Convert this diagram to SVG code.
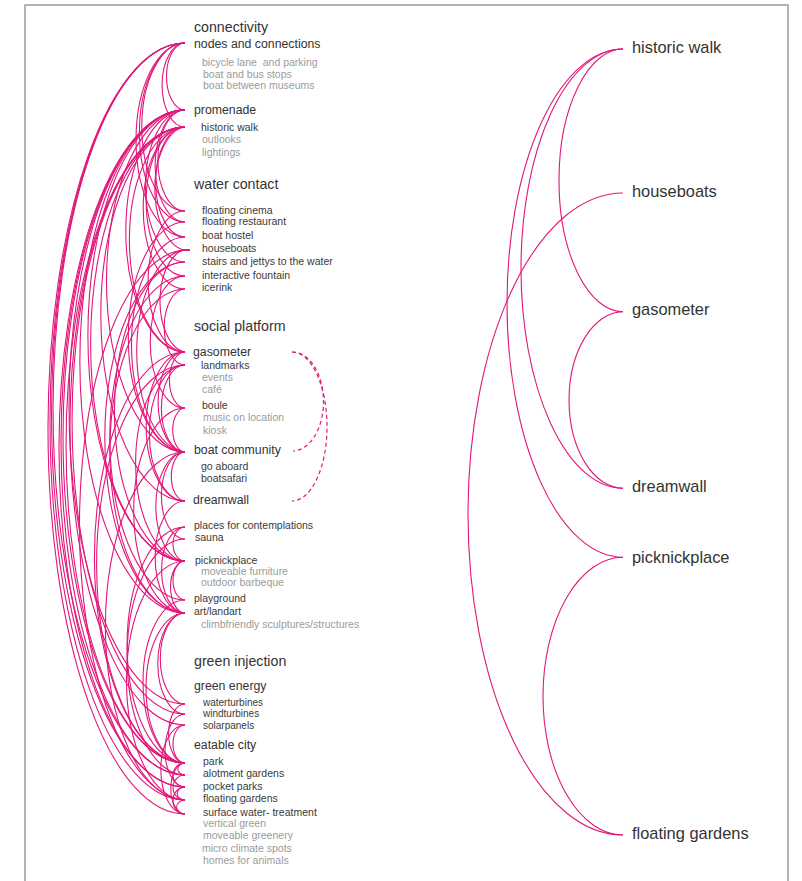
<svg xmlns="http://www.w3.org/2000/svg" width="802" height="881" viewBox="0 0 802 881">
<style>
text{font-family:"Liberation Sans",Arial,sans-serif;}
.h{font-size:14.2px;fill:#333;}
.s{font-size:12.3px;fill:#333;}
.i{font-size:10.5px;fill:#3a3a3a;}
.t{font-size:10px;fill:#3a3a3a;}
.g{font-size:10.5px;fill:#9b9b9b;white-space:pre;}
.r{font-size:16.4px;fill:#333;}
.c path{fill:none;stroke:#e2167a;stroke-width:1.1;}
.c path.d{stroke-dasharray:4 3;stroke-width:1.2;}
</style>
<rect width="802" height="881" fill="#fff"/>
<path d="M25,881V5H788V881" fill="none" stroke="#9a9a9a" stroke-width="1.5"/>
<g id="connectors" class="c">
<path d="M185,43 A18.5,33.5 0 0 0 185,110"/>
<path d="M185,43 A22.9,42 0 0 0 185,127"/>
<path d="M185,43 A43.2,84 0 0 0 185,211"/>
<path d="M185,43 A45.6,89.5 0 0 0 185,222"/>
<path d="M185,43 A49,97 0 0 0 185,237"/>
<path d="M185,43 A132,366 0 0 0 185,775"/>
<path d="M185,43 A133.5,372 0 0 0 185,787"/>
<path d="M185,43 A135,378.5 0 0 0 185,800"/>
<path d="M185,43 A137,385.5 0 0 0 185,814"/>
<path d="M185,110 A27.2,50.5 0 0 0 185,211"/>
<path d="M185,110 A29.9,56 0 0 0 185,222"/>
<path d="M185,110 A39.5,76 0 0 0 185,262"/>
<path d="M185,110 A59.2,121 0 0 0 185,352"/>
<path d="M185,110 A97.1,225.5 0 0 0 185,561"/>
<path d="M185,110 A105.2,251.5 0 0 0 185,613"/>
<path d="M185,110 A122,326.5 0 0 0 185,763"/>
<path d="M185,110 A124,332.5 0 0 0 185,775"/>
<path d="M185,110 A126,338.5 0 0 0 185,787"/>
<path d="M185,110 A116,297 0 0 0 185,704"/>
<path d="M185,110 A78.5,171 0 0 0 185,452"/>
<path d="M185,127 A29.4,55 0 0 0 185,237"/>
<path d="M185,127 A38.8,74.5 0 0 0 185,276"/>
<path d="M185,127 A41.8,81 0 0 0 185,289"/>
<path d="M185,127 A55.6,112.5 0 0 0 185,352"/>
<path d="M185,127 A84.2,187 0 0 0 185,501"/>
<path d="M185,127 A94.4,217 0 0 0 185,561"/>
<path d="M185,127 A119,318 0 0 0 185,763"/>
<path d="M185,127 A113,293.5 0 0 0 185,714"/>
<path d="M185,127 A115,299 0 0 0 185,725"/>
<path d="M185,127 A32.6,61.5 0 0 0 190,250"/>
<path d="M185,211 A36.9,70.5 0 0 0 185,352"/>
<path d="M185,222 A56.7,115 0 0 0 185,452"/>
<path d="M185,237 A53.5,107.5 0 0 0 185,452"/>
<path d="M190,250 A50.7,101 0 0 0 185,452"/>
<path d="M190,250 A108,275 0 0 0 185,800"/>
<path d="M190,250 A27.4,51 0 0 0 185,352"/>
<path d="M185,262 A70.5,149.5 0 0 0 185,561"/>
<path d="M185,262 A80.2,175.5 0 0 0 185,613"/>
<path d="M185,276 A34.8,66 0 0 0 185,408"/>
<path d="M185,276 A75.2,162 0 0 0 185,600"/>
<path d="M185,289 A20.8,38 0 0 0 185,365"/>
<path d="M185,289 A75.2,162 0 0 0 185,613"/>
<path d="M185,352 A26.9,50 0 0 0 185,452"/>
<path d="M185,352 A38.8,74.5 0 0 0 185,501"/>
<path d="M185,352 A15.6,28 0 0 0 185,408"/>
<path d="M185,352 A90.6,205.5 0 0 0 185,763"/>
<path d="M185,365 A23.6,43.5 0 0 0 185,452"/>
<path d="M185,365 A35.7,68 0 0 0 185,501"/>
<path d="M185,365 A49.4,98 0 0 0 185,561"/>
<path d="M185,365 A88.4,199 0 0 0 185,763"/>
<path d="M185,408 A12.3,22 0 0 0 185,452"/>
<path d="M185,408 A51.3,102.5 0 0 0 185,613"/>
<path d="M185,452 A13.7,24.5 0 0 0 185,501"/>
<path d="M185,452 A23.6,43.5 0 0 0 185,539"/>
<path d="M185,452 A29.2,54.5 0 0 0 185,561"/>
<path d="M185,452 A79.6,174 0 0 0 185,800"/>
<path d="M185,501 A29.9,56 0 0 0 185,613"/>
<path d="M185,527 A23.4,43 0 0 0 185,613"/>
<path d="M185,527 A57.9,118 0 0 0 185,763"/>
<path d="M185,527 A12,17 0 0 0 185,561"/>
<path d="M185,539 A57.9,118 0 0 0 185,775"/>
<path d="M185,561 A12,19.5 0 0 0 185,600"/>
<path d="M185,561 A14.5,26 0 0 0 185,613"/>
<path d="M185,561 A58.5,119.5 0 0 0 185,800"/>
<path d="M185,600 A42,81.5 0 0 0 185,763"/>
<path d="M185,613 A24.7,45.5 0 0 0 185,704"/>
<path d="M185,613 A27.2,50.5 0 0 0 185,714"/>
<path d="M185,613 A39,75 0 0 0 185,763"/>
<path d="M185,704 A16.4,29.5 0 0 0 185,763"/>
<path d="M185,714 A20,36.5 0 0 0 185,787"/>
<path d="M185,725 A12,19 0 0 0 185,763"/>
<path d="M185,763 A7.2,6 0 0 0 185,775"/>
<path d="M185,763 A12,12 0 0 0 185,787"/>
<path d="M185,763 A14.2,25.5 0 0 0 185,814"/>
<path d="M185,775 A12,12.5 0 0 0 185,800"/>
<path d="M185,787 A12,13.5 0 0 0 185,814"/>
<path d="M185,787 A7.8,6.5 0 0 0 185,800"/>
<path d="M185,800 A8.4,7 0 0 0 185,814"/>
<path d="M185,725 A24.2,44.5 0 0 0 185,814"/>
<path class="d" d="M292,352 A35,74.5 0 0 1 292,501"/>
<path class="d" d="M292,352 A31,49.5 0 0 1 293,451"/>
<path d="M623,49 A64,131.35 0 0 0 623,311.7"/>
<path d="M623,49 A102,219.65 0 0 0 623,488.3"/>
<path d="M623,49 A116,254.15 0 0 0 623,557.3"/>
<path d="M623,193 A155,321 0 0 0 623,835"/>
<path d="M623,311.7 A54,88.3 0 0 0 623,488.3"/>
<path d="M623,557.3 A80,138.85 0 0 0 623,835"/>
</g>
<g id="connectivity"><text class="h" x="194" y="32">connectivity</text></g>
<g id="nodes-and-connections"><text class="s" x="194" y="48">nodes and connections</text>
<text class="g" x="202" y="66">bicycle lane  and parking</text>
<text class="g" x="203" y="78">boat and bus stops</text>
<text class="g" x="203" y="89">boat between museums</text></g>
<g id="promenade"><text class="s" x="194" y="114">promenade</text></g>
<g id="historic-walk-l"><text class="i" x="201" y="131">historic walk</text>
<text class="g" x="202" y="143">outlooks</text>
<text class="g" x="202" y="156">lightings</text></g>
<g id="water-contact"><text class="h" x="194" y="189">water contact</text></g>
<g id="floating-cinema"><text class="i" x="202" y="214">floating cinema</text></g>
<g id="floating-restaurant"><text class="i" x="202" y="225">floating restaurant</text></g>
<g id="boat-hostel"><text class="i" x="202" y="239">boat hostel</text></g>
<g id="houseboats-l"><text class="i" x="202" y="252">houseboats</text></g>
<g id="stairs"><text class="i" x="202" y="265">stairs and jettys to the water</text></g>
<g id="fountain"><text class="i" x="202" y="279">interactive fountain</text></g>
<g id="icerink"><text class="i" x="202" y="291">icerink</text></g>
<g id="social-platform"><text class="h" x="194" y="331">social platform</text></g>
<g id="gasometer-l"><text class="s" x="193" y="356">gasometer</text></g>
<g id="landmarks"><text class="i" x="201" y="369">landmarks</text>
<text class="g" x="202" y="381">events</text>
<text class="g" x="202" y="393">café</text></g>
<g id="boule"><text class="i" x="202" y="409">boule</text>
<text class="g" x="203" y="421">music on location</text>
<text class="g" x="203" y="434">kiosk</text></g>
<g id="boat-community"><text class="s" x="194" y="454">boat community</text>
<text class="i" x="201" y="470">go aboard</text>
<text class="i" x="201" y="482">boatsafari</text></g>
<g id="dreamwall-l"><text class="s" x="193" y="504">dreamwall</text></g>
<g id="contemplations"><text class="i" x="194" y="529">places for contemplations</text></g>
<g id="sauna"><text class="i" x="195" y="541">sauna</text></g>
<g id="picknickplace-l"><text class="i" x="195" y="564">picknickplace</text>
<text class="g" x="201" y="575">moveable furniture</text>
<text class="g" x="201" y="586">outdoor barbeque</text></g>
<g id="playground"><text class="i" x="194" y="602">playground</text></g>
<g id="art"><text class="i" x="194" y="615">art/landart</text>
<text class="g" x="201" y="628">climbfriendly sculptures/structures</text></g>
<g id="green-injection"><text class="h" x="194" y="666">green injection</text></g>
<g id="green-energy"><text class="s" x="194" y="690">green energy</text></g>
<g id="waterturbines"><text class="t" x="203" y="705.5">waterturbines</text></g>
<g id="windturbines"><text class="t" x="203" y="717">windturbines</text></g>
<g id="solarpanels"><text class="t" x="203" y="728.5">solarpanels</text></g>
<g id="eatable-city"><text class="s" x="194" y="749">eatable city</text></g>
<g id="park"><text class="i" x="203" y="765">park</text></g>
<g id="alotment"><text class="i" x="203" y="777">alotment gardens</text></g>
<g id="pocket-parks"><text class="i" x="203" y="790">pocket parks</text></g>
<g id="floating-gardens-l"><text class="i" x="203" y="802">floating gardens</text></g>
<g id="surface-water"><text class="i" x="203" y="816">surface water- treatment</text>
<text class="g" x="203" y="827">vertical green</text>
<text class="g" x="203" y="839">moveable greenery</text>
<text class="g" x="202" y="852">micro climate spots</text>
<text class="g" x="203" y="864">homes for animals</text></g>
<g id="historic-walk"><text class="r" x="632" y="53">historic walk</text></g>
<g id="houseboats"><text class="r" x="632" y="197">houseboats</text></g>
<g id="gasometer"><text class="r" x="632" y="315">gasometer</text></g>
<g id="dreamwall"><text class="r" x="632" y="492">dreamwall</text></g>
<g id="picknickplace"><text class="r" x="632" y="563">picknickplace</text></g>
<g id="floating-gardens"><text class="r" x="632" y="839">floating gardens</text></g>
</svg>
